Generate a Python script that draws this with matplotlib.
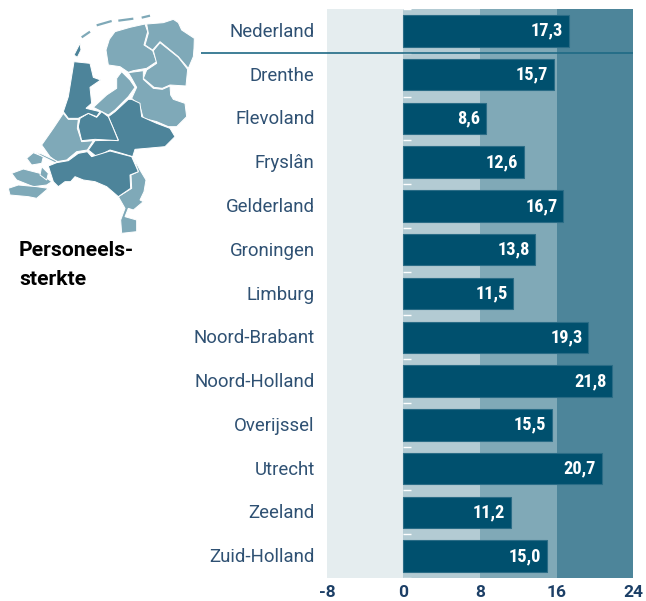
"""Personeelssterkte per provincie: horizontal bars on shaded bands, small map top left."""
import matplotlib
matplotlib.use("Agg")
import matplotlib.pyplot as plt
from matplotlib import font_manager as fm
from matplotlib.patches import Polygon
from matplotlib.transforms import ScaledTranslation

provinces = ['Nederland', 'Drenthe', 'Flevoland', 'Fryslân', 'Gelderland', 'Groningen', 'Limburg',
             'Noord-Brabant', 'Noord-Holland', 'Overijssel', 'Utrecht', 'Zeeland', 'Zuid-Holland']
values = [17.3, 15.7, 8.6, 12.6, 16.7, 13.8, 11.5, 19.3, 21.8, 15.5, 20.7, 11.2, 15.0]
xticks = [-8, 0, 8, 16, 24]
band_colors = ['#e5edef', '#b3cbd3', '#80a9b7', '#4d859a']

BAR = '#00506e'; BAR_EDGE = '#2a6c86'; LABEL = '#2f5173'; TICK = '#1c3f66'
MAP_LIGHT = '#7fa9b8'; MAP_DARK = '#4d849a'

# map outlines, in 3x picture pixels
light_shapes = [
    [(345,95),(390,82),(435,72),(443,95),(432,135),(458,152),(470,185),(440,205),(400,212),(385,217),(360,200),(325,195),(318,150),(328,118)],
    [(440,72),(490,68),(520,58),(535,68),(545,90),(583,115),(582,145),(580,170),(565,205),(535,170),(480,125),(458,150),(435,135),(445,100)],
    [(480,128),(535,172),(563,208),(558,258),(510,255),(487,265),(462,262),(430,235),(440,210),(470,190),(460,152)],
    [(430,238),(460,265),(487,268),(510,258),(512,285),(520,298),(555,310),(560,350),(530,380),(505,380),(470,365),(430,355),(420,320),(395,295),(410,262),(395,235),(385,218),(430,212)],
    [(365,215),(390,240),(405,262),(385,290),(345,330),(325,345),(280,322),(320,285),(350,265),(350,235)],
    [(190,340),(205,358),(235,358),(232,385),(245,425),(280,422),(262,450),(230,455),(200,480),(170,485),(150,470),(125,435),(160,385)],
    [(400,472),(420,510),(438,540),(432,575),(420,600),(430,605),(400,630),(385,625),(375,650),(410,660),(410,695),(365,700),(362,660),(375,625),(355,590),(395,565),(393,525),(415,515)],
    [(80,475),(100,458),(130,470),(125,490),(95,495)],
    [(35,520),(70,507),(120,520),(155,545),(140,555),(100,560),(50,540)],
    [(25,565),(55,555),(110,560),(145,565),(110,595),(85,590),(30,585)],
    [(125,500),(145,520),(140,540),(120,525)],
    [(100,455),(125,462),(172,484),(165,488),(125,468)],
]
dark_shapes = [
    [(395,298),(420,310),(425,350),(470,370),(510,385),(525,410),(495,440),(440,445),(405,448),(398,470),(365,460),(330,450),(290,470),(265,450),(285,422),(355,420),(340,385),(325,350),(345,335),(385,298)],
    [(265,340),(290,352),(305,335),(325,350),(340,385),(355,422),(285,418),(245,422),(235,380),(240,355)],
    [(222,185),(270,190),(280,232),(302,240),(270,262),(275,310),(258,325),(300,335),(290,350),(265,340),(235,355),(205,355),(190,335),(205,290)],
    [(145,498),(170,488),(205,482),(235,460),(262,455),(275,470),(330,453),(395,470),(415,515),(390,525),(392,565),(355,590),(320,560),(285,545),(250,540),(225,530),(212,545),(195,545),(175,560),(160,545)],
    [(222,165),(240,130),(243,150),(232,172)],
]
islands = [[(245,112),(270,95)], [(290,76),(335,63)], [(355,62),(400,56)], [(425,53),(450,47)]]

installed = {f.name for f in fm.fontManager.ttflist}
narrow = next((n for n in ('Roboto Condensed', 'Liberation Sans Narrow') if n in installed), 'Roboto')
plt.rcParams.update({'font.family': 'Roboto'})

fig = plt.figure(figsize=(6.46, 6.01), dpi=100)

# full-figure layer for the map
bg = fig.add_axes([0, 0, 1, 1])
bg.set_xlim(0, 646*3); bg.set_ylim(601*3, 0); bg.axis('off')
for shape in light_shapes:
    bg.add_patch(Polygon(shape, closed=True, fc=MAP_LIGHT, ec='white', lw=0.7))
for shape in dark_shapes:
    bg.add_patch(Polygon(shape, closed=True, fc=MAP_DARK, ec='white', lw=0.7))
for pts in islands:
    bg.plot(*zip(*pts), color=MAP_LIGHT, lw=1.6, solid_capstyle='butt')
bg.text(19*3, 250*3, 'Personeels-', fontsize=15.2, fontweight='bold', color='black', va='center')
bg.text(19*3, 279*3, 'sterkte', fontsize=15.2, fontweight='bold', color='black', va='center')

ax = fig.add_axes([326.9/646, 1-578/601, 306.2/646, 569/601])
ax.patch.set_alpha(0)
for i, c in enumerate(band_colors):
    ax.axvspan(xticks[i], xticks[i+1], color=c, lw=0, zorder=0)

y = list(range(len(provinces)))
ax.barh(y, values, height=0.72, color=BAR, edgecolor=BAR_EDGE, linewidth=0.8, zorder=3)
for yi, v in zip(y, values):
    ax.annotate(f'{v:.1f}'.replace('.', ','), (v, yi), xytext=(-4, 0), textcoords='offset points',
                ha='right', va='center', color='white', fontsize=13.2, fontweight='bold',
                family=narrow, zorder=4)

# little white marks on the zero line, between the bars
edges = [yi - 0.5 for yi in y] + [y[-1] + 0.5]
ax.hlines(edges, 0, 0.75, color='white', lw=1, zorder=2)

ax.set_xlim(xticks[0], xticks[-1]); ax.set_ylim(len(y) - 0.5, -0.5)
ax.set_yticks(y); ax.set_yticklabels(provinces, fontsize=13.4, color=LABEL, va='center')
ax.set_xticks(xticks); ax.set_xticklabels(xticks, fontsize=12.5, fontweight='bold', color=TICK)
ax.tick_params(length=0)
ax.tick_params(axis='y', pad=8.8)
ax.tick_params(axis='x', pad=5)
for lab in ax.get_yticklabels():
    lab.set_transform(lab.get_transform() + ScaledTranslation(0, -1/100, fig.dpi_scale_trans))
for s in ax.spines.values():
    s.set_visible(False)

# Nederland rule running in from the map
ax.plot([201, 633], [601-52.6, 601-52.6], transform=None, color='#1f6a85', lw=1.2,
        solid_capstyle='butt', zorder=5, clip_on=False)

plt.savefig('out.png', dpi=100)
